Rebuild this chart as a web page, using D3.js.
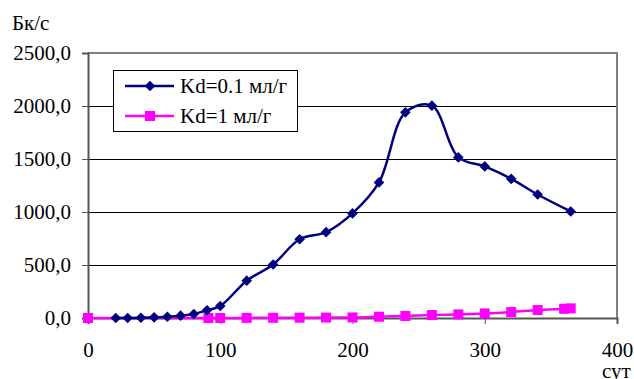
<!DOCTYPE html>
<html>
<head>
<meta charset="utf-8">
<script src="https://cdn.jsdelivr.net/npm/d3@7"></script>
<style>
  body { margin: 0; background: #fff; }
  svg { display: block; }
</style>
</head>
<body>
<div id="chart"></div>
<script>
// series 1: Kd=0.1 мл/г
var days1 = [21, 30, 40, 50, 60, 70, 80, 90, 100, 120, 140, 160, 180, 200, 220, 240, 260, 280, 300, 320, 340, 365];
var vals1 = [0, 0, 2, 6, 12, 22, 38, 73, 113, 352, 505, 743, 810, 987, 1279, 1940, 2003, 1515, 1430, 1313, 1165, 1005];
// series 2: Kd=1 мл/г
var days2 = [0, 91, 100, 120, 140, 160, 180, 200, 220, 240, 260, 280, 300, 320, 340, 360, 365];
var vals2 = [0, 0, 0, 1, 2, 3, 4, 5, 12, 19, 28, 34, 43, 56, 75, 87, 91];

var seriesNames = ['Kd=0.1 мл/г', 'Kd=1 мл/г'];
var xTicks = [0, 100, 200, 300, 400];
var yTicks = [0, 500, 1000, 1500, 2000, 2500];

var W = 634, H = 379;
var pLeft = 88, pRight = 617, pTop = 53, pBottom = 318;
var FONT = 'Liberation Serif';

var svg = d3.select('#chart').append('svg').attr('width', W).attr('height', H)
    .attr('font-family', FONT);

var x = d3.scaleLinear().domain([0, 400]).range([pLeft, pRight]);
var y = d3.scaleLinear().domain([0, 2500]).range([pBottom, pTop]);

// gridlines
svg.append('g').selectAll('line')
    .data(yTicks.filter(function (d) { return d > 0 && d < 2500; }))
    .enter().append('line')
    .attr('x1', pLeft).attr('x2', pRight)
    .attr('y1', function (d) { return Math.round(y(d)) + 0.5; })
    .attr('y2', function (d) { return Math.round(y(d)) + 0.5; })
    .attr('stroke', '#000').attr('stroke-width', 1);

// frame (top and right)
svg.append('path')
    .attr('d', 'M' + pLeft + ',' + y(2500) + 'H' + pRight + 'V' + pBottom)
    .attr('fill', 'none').attr('stroke', '#808080').attr('stroke-width', 2);

// y axis
var yAxis = svg.append('g')
    .attr('transform', 'translate(' + pLeft + ',0)')
    .call(d3.axisLeft(y).tickValues(yTicks).tickSize(6).tickPadding(11)
        .tickFormat(function (d) { return d3.format('.1f')(d).replace('.', ','); }));
yAxis.attr('font-family', FONT);
yAxis.select('.domain').attr('stroke', '#555').attr('stroke-width', 2);
yAxis.selectAll('.tick line').attr('stroke', '#555');
yAxis.selectAll('text').attr('font-size', 21).attr('fill', '#000').attr('font-family', FONT);

// x axis
var xAxis = svg.append('g')
    .attr('transform', 'translate(0,' + pBottom + ')')
    .call(d3.axisBottom(x).tickValues(xTicks).tickSize(6).tickPadding(18));
xAxis.attr('font-family', FONT);
xAxis.select('.domain').attr('stroke', '#555').attr('stroke-width', 2);
xAxis.selectAll('.tick line').attr('stroke', '#555');
xAxis.selectAll('text').attr('font-size', 21).attr('fill', '#000').attr('font-family', FONT);

// axis titles
svg.append('text').attr('x', 12).attr('y', 30).attr('font-size', 21).attr('font-family', FONT).text('Бк/с');
svg.append('text').attr('x', 602).attr('y', 378).attr('font-size', 21).attr('font-family', FONT).text('сут');

var data1 = days1.map(function (d, i) { return [d, vals1[i]]; });
var data2 = days2.map(function (d, i) { return [d, vals2[i]]; });

var line = d3.line()
    .x(function (d) { return x(d[0]); })
    .y(function (d) { return y(d[1]); })
    .curve(d3.curveCatmullRom.alpha(0.5));

var diamond = d3.symbol().type(d3.symbolDiamond2).size(72);

// magenta series
svg.append('path').datum(data2).attr('d', line)
    .attr('fill', 'none').attr('stroke', '#FF00FF').attr('stroke-width', 2.5);
svg.append('g').selectAll('rect').data(data2).enter().append('rect')
    .attr('x', function (d) { return x(d[0]) - 5; })
    .attr('y', function (d) { return y(d[1]) - 5; })
    .attr('width', 10).attr('height', 10).attr('fill', '#FF00FF');

// navy series
svg.append('path').datum(data1).attr('d', line)
    .attr('fill', 'none').attr('stroke', '#000080').attr('stroke-width', 2.5);
svg.append('g').selectAll('path').data(data1).enter().append('path')
    .attr('d', diamond)
    .attr('transform', function (d) { return 'translate(' + x(d[0]) + ',' + y(d[1]) + ')'; })
    .attr('fill', '#000080');

// legend
var lg = svg.append('g');
lg.append('rect').attr('x', 113.5).attr('y', 70.5).attr('width', 184).attr('height', 61)
    .attr('fill', '#fff').attr('stroke', '#000').attr('stroke-width', 1);
var colors = ['#000080', '#FF00FF'];
seriesNames.forEach(function (name, i) {
    var cy = 86 + i * 30;
    lg.append('line').attr('x1', 125).attr('x2', 174).attr('y1', cy).attr('y2', cy)
        .attr('stroke', colors[i]).attr('stroke-width', 2.5);
    if (i === 0) {
        lg.append('path').attr('d', diamond).attr('transform', 'translate(150,' + cy + ')')
            .attr('fill', colors[i]);
    } else {
        lg.append('rect').attr('x', 145).attr('y', cy - 5).attr('width', 10).attr('height', 10)
            .attr('fill', colors[i]);
    }
    lg.append('text').attr('x', 180).attr('y', cy + 7).attr('font-size', 21)
        .attr('font-family', FONT).text(name);
});
</script>
</body>
</html>
